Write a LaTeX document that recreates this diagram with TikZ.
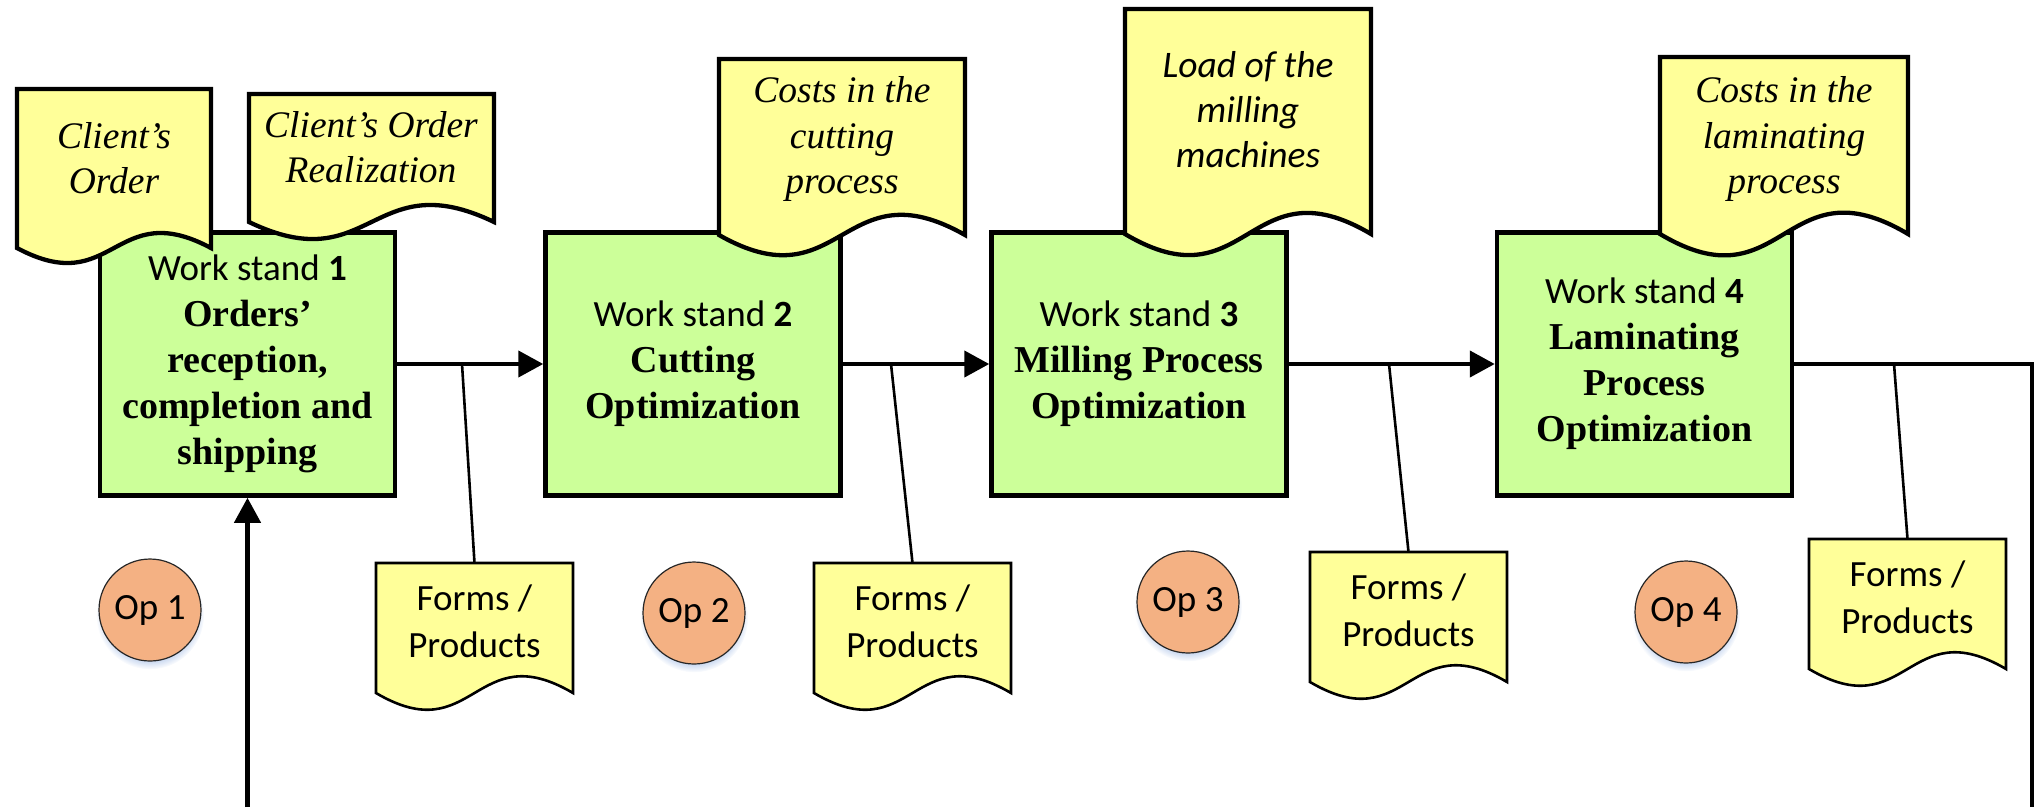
\documentclass[tikz,border=0pt]{standalone}
\usepackage{fontspec}
\setmainfont{Liberation Serif}
\newfontfamily\calibri{Carlito}
\usetikzlibrary{arrows.meta,shadows,fadings,fit,calc}

\definecolor{boxgreen}{RGB}{204,255,153}
\definecolor{docyellow}{RGB}{255,255,153}
\definecolor{opfill}{RGB}{244,177,131}
\definecolor{glowblue}{RGB}{110,150,215}

% Document symbol: a frame node for the straight part, then the outline
% with a wavy bottom edge.
% #1 outline style, #2 name, #3 left, #4 top, #5 width, #6 corner y, #7 wave depth
\newcommand\wavedoc[7]{%
  \node[fit={(#3,#4) ({#3+#5},#6)}, inner sep=0pt, outer sep=0pt] (#2) {};
  \path[#1] (#2.north west) -- (#2.north east) -- (#2.south east)
    .. controls ($(#2.south)+(0,-#7)$) and ($(#2.south)+(0,#7)$) .. (#2.south west)
    -- cycle;
}

\begin{document}
\begin{tikzpicture}[x=1pt, y=-1pt,
  wsbox/.style={draw, line width=4.5pt, fill=boxgreen, minimum width=295pt,
    minimum height=263pt, inner sep=0pt, align=center,
    font=\fontsize{38}{46}\selectfont\bfseries},
  wslabel/.style={},
  topdoc/.style={draw, line width=4.3pt, fill=docyellow, line join=miter},
  formdoc/.style={draw, line width=2.6pt, fill=docyellow, line join=miter},
  toptext/.style={inner sep=0pt, align=center,
    font=\fontsize{37.5}{45.5}\selectfont\itshape},
  formtext/.style={inner sep=0pt, align=center,
    font=\calibri\fontsize{37}{47}\selectfont},
  opc/.style={circle, draw=black!85, line width=1.2pt, fill=opfill,
    minimum size=102pt, inner sep=0pt, font=\calibri\fontsize{37}{44}\selectfont,
    circular drop shadow={shadow xshift=0pt, shadow yshift=-5pt,
      shadow scale=1.06, fill=glowblue, opacity=0.35}},
  flowline/.style={line width=4.3pt},
  flow/.style={flowline, -{Triangle[length=25pt, width=26pt]}},
  branch/.style={line width=2.6pt}
]
\useasboundingbox (0,0) rectangle (2041,807);

% work stands
\node[wsbox] (ws1) at (247.5,364) {{\calibri\mdseries\fontsize{37}{46}\selectfont Work stand \textbf{1}}\\Orders’\\reception,\\completion and\\shipping};
\node[wsbox] (ws2) at (693,364) {{\calibri\mdseries\fontsize{37}{46}\selectfont Work stand \textbf{2}}\\Cutting\\Optimization};
\node[wsbox] (ws3) at (1139,364) {{\calibri\mdseries\fontsize{37}{46}\selectfont Work stand \textbf{3}}\\Milling Process\\Optimization};
\node[wsbox] (ws4) at (1644.5,364) {{\calibri\mdseries\fontsize{37}{47}\selectfont Work stand \textbf{4}}\\Laminating\\Process\\Optimization};

% material flow
\coordinate (entry) at (247.5,807);
\coordinate (exitR) at (2032,807);
\draw[flow] (entry) -- (ws1.south);
\draw[flow] (ws1) -- (ws2);
\draw[flow] (ws2) -- (ws3);
\draw[flow] (ws3) -- (ws4);
\draw[flowline] (ws4.east) -| (exitR);

% documents on top of the work stands
\wavedoc{topdoc}{cO}{17}{89}{194}{248}{52}
\wavedoc{topdoc}{cR}{249}{94}{245}{222}{59}
\wavedoc{topdoc}{cC}{719}{59}{246}{235}{70}
\wavedoc{topdoc}{cL}{1125}{9}{246}{234}{73}
\wavedoc{topdoc}{cLam}{1660}{57}{248}{234}{74}

\node[toptext] (cOt) at (114,158) {Client’s\\Order};
\node[toptext] (cRt) at (371,147) {Client’s Order\\Realization};
\node[toptext] (cCt) at (842,139) {Costs in the\\cutting\\process};
\node[toptext, font=\calibri\fontsize{37.5}{45}\selectfont\itshape] (cLt) at (1248,110) {Load of the\\milling\\machines};
\node[toptext] (cLamt) at (1784,139) {Costs in the\\laminating\\process};

% output documents
\wavedoc{formdoc}{f1}{376}{563}{197}{693}{58}
\wavedoc{formdoc}{f2}{814}{563}{197}{693}{58}
\wavedoc{formdoc}{f3}{1310}{552}{197}{682}{58}
\wavedoc{formdoc}{f4}{1809}{539}{197}{669}{58}

\node[formtext] (f1t) at (474.5,621) {Forms /\\Products};
\node[formtext] (f2t) at (912.5,621) {Forms /\\Products};
\node[formtext] (f3t) at (1408.5,610) {Forms /\\Products};
\node[formtext] (f4t) at (1907.5,597) {Forms /\\Products};

% branches from the flow to the output documents
\coordinate (b1) at (462,364);
\coordinate (b2) at (891,364);
\coordinate (b3) at (1389,364);
\coordinate (b4) at (1894,364);
\draw[branch] (b1) -- (f1.north);
\draw[branch] (b2) -- (f2.north);
\draw[branch] (b3) -- (f3.north);
\draw[branch] (b4) -- (f4.north);

% operators
\node[opc] (op1) at (150,610) {Op 1};
\node[opc] (op2) at (694,613) {Op 2};
\node[opc] (op3) at (1188,602) {Op 3};
\node[opc] (op4) at (1686,612) {Op 4};
\end{tikzpicture}
\end{document}
